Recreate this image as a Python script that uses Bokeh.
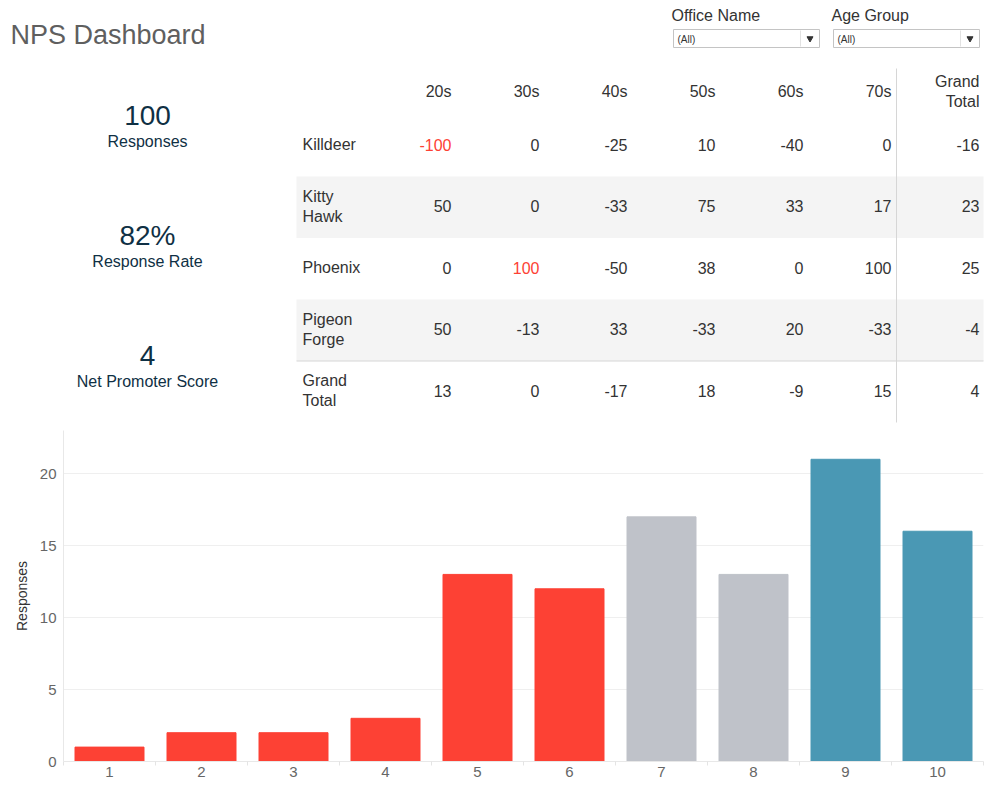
from bokeh.plotting import figure
from bokeh.models import Range1d, ColumnDataSource, FixedTicker
from bokeh.core.properties import value
from bokeh.embed import file_html
from bokeh.resources import INLINE

# ---------------- data ----------------
title = "NPS Dashboard"
filter_names = ["Office Name", "Age Group"]
filter_values = ["(All)", "(All)"]

kpi_values = ["100", "82%", "4"]
kpi_labels = ["Responses", "Response Rate", "Net Promoter Score"]

age_groups = ["20s", "30s", "40s", "50s", "60s", "70s", "Grand\nTotal"]
offices = ["Killdeer", "Kitty\nHawk", "Phoenix", "Pigeon\nForge", "Grand\nTotal"]
nps_killdeer = [-100, 0, -25, 10, -40, 0, -16]
nps_kitty_hawk = [50, 0, -33, 75, 33, 17, 23]
nps_phoenix = [0, 100, -50, 38, 0, 100, 25]
nps_pigeon_forge = [50, -13, 33, -33, 20, -33, -4]
nps_grand_total = [13, 0, -17, 18, -9, 15, 4]
highlighted = [("Killdeer", "20s"), ("Phoenix", "30s")]

scores = [1, 2, 3, 4, 5, 6, 7, 8, 9, 10]
responses = [1, 2, 2, 3, 13, 12, 17, 13, 21, 16]

FONT = "Liberation Sans"
RED = "#fd4134"
GRAY = "#bfc2c9"
TEAL = "#4a98b4"
TEXT = "#333333"
NAVY = "#0f3044"

# ---------------- top panel ----------------
W = 990
top = figure(width=W, height=425, x_range=Range1d(0, W), y_range=Range1d(425, 0),
             output_backend="svg", toolbar_location=None, min_border=0,
             x_axis_type=None, y_axis_type=None)
top.grid.visible = False
top.outline_line_color = None

top.text(x=[10], y=[34], text=[title], text_font=value(FONT), text_font_size="27px",
         text_color="#5f5f5f", text_baseline="middle")

# filters
fx = [671, 831]
for i, name in enumerate(filter_names):
    x0 = fx[i] + 2
    x1 = x0 + 146
    top.text(x=[fx[i]], y=[15], text=[name], text_font=value(FONT), text_font_size="16px",
             text_color=TEXT, text_baseline="middle")
    top.quad(left=[x0], right=[x1], top=[29], bottom=[47], fill_color="white",
             line_color="#c4c4c4", line_width=1)
    top.segment(x0=[x1 - 19], x1=[x1 - 19], y0=[30], y1=[46], line_color="#e2e2e2")
    top.text(x=[x0 + 4], y=[38.5], text=[filter_values[i]], text_font=value(FONT),
             text_font_size="10px", text_color=TEXT, text_baseline="middle")
    top.scatter(x=[x1 - 9.5], y=[38], marker="inverted_triangle", size=6,
                color="#333333")

# KPIs
for i, (v, lab) in enumerate(zip(kpi_values, kpi_labels)):
    yc = 115 + 120 * i
    top.text(x=[147], y=[yc], text=[v], text_font=value(FONT), text_font_size="28px",
             text_color=NAVY, text_align="center", text_baseline="middle")
    top.text(x=[147], y=[yc + 26], text=[lab], text_font=value(FONT), text_font_size="16px",
             text_color=NAVY, text_align="center", text_baseline="middle")

# table
row_h = 61.5
row0 = 114.5
rows = [nps_killdeer, nps_kitty_hawk, nps_phoenix, nps_pigeon_forge, nps_grand_total]
band_top = [row0 + row_h * i for i in (1, 3)]
top.quad(left=296, right=983, top=band_top, bottom=[b + row_h for b in band_top],
         fill_color="#f4f4f4", line_color=None)
top.segment(x0=[296], x1=[983], y0=[row0 + row_h * 4], y1=[row0 + row_h * 4],
            line_color="#d6d6d6", line_width=1)
top.segment(x0=[896], x1=[896], y0=[68], y1=[row0 + row_h * 5],
            line_color="#d6d6d6", line_width=1)

col_x = [451 + 88 * j for j in range(len(age_groups))]
# header
top.text(x=col_x, y=[91] * len(age_groups), text=age_groups, text_font=value(FONT),
         text_font_size="16px", text_color=TEXT, text_align="right", text_baseline="middle",
         text_line_height=1.2)
# row labels
row_y = [row0 + row_h * (i + 0.5) - 1 for i in range(len(offices))]
top.text(x=[302] * len(offices), y=row_y, text=offices, text_font=value(FONT),
         text_font_size="16px", text_color=TEXT, text_align="left", text_baseline="middle",
         text_line_height=1.2)
xs, ys, ts, cs = [], [], [], []
for i, r in enumerate(rows):
    for j, v in enumerate(r):
        xs.append(col_x[j])
        ys.append(row_y[i])
        ts.append(str(v))
        cs.append(RED if (offices[i], age_groups[j]) in highlighted else TEXT)
top.text(x="x", y="y", text="t", text_color="c",
         source=ColumnDataSource(dict(x=xs, y=ys, t=ts, c=cs)),
         text_font=value(FONT), text_font_size="16px", text_align="right",
         text_baseline="middle")

# ---------------- bar chart ----------------
bar_colors = [RED if s <= 6 else (GRAY if s <= 8 else TEAL) for s in scores]
bar = figure(width=W, height=361, x_range=Range1d(0.5, 10.5), y_range=Range1d(0, 23),
             output_backend="svg", toolbar_location=None,
             min_border_left=63, min_border_right=7, min_border_top=5, min_border_bottom=25)
bar.outline_line_color = None
bar.vbar(x=scores, top=responses, width=0.75, color=bar_colors)

bar.xgrid.visible = False
bar.ygrid.grid_line_color = "#efefef"
bar.yaxis.ticker = FixedTicker(ticks=[0, 5, 10, 15, 20])
bar.xaxis.ticker = FixedTicker(ticks=scores, minor_ticks=[s - 0.5 for s in scores] + [10.5])
bar.xaxis.major_tick_line_color = None
bar.xaxis.major_tick_out = 0
bar.xaxis.major_tick_in = 0
bar.xaxis.minor_tick_line_color = "#e4e4e4"
bar.xaxis.minor_tick_in = 0
bar.xaxis.minor_tick_out = 4
bar.yaxis.major_tick_line_color = None
bar.yaxis.major_tick_out = 0
bar.yaxis.major_tick_in = 0
bar.yaxis.minor_tick_line_color = None
for ax in (bar.xaxis, bar.yaxis):
    ax.axis_line_color = "#e8e8e8"
    ax.major_label_text_font = FONT
    ax.major_label_text_font_size = "15px"
    ax.major_label_text_color = "#666666"
bar.xaxis.major_label_standoff = 1
bar.yaxis.major_label_standoff = 7
bar.yaxis.axis_label = "Responses"
bar.yaxis.axis_label_text_font = FONT
bar.yaxis.axis_label_text_font_size = "14px"
bar.yaxis.axis_label_text_font_style = "normal"
bar.yaxis.axis_label_text_color = TEXT
bar.yaxis.axis_label_standoff = 7

open("out.html", "w").write(file_html([top, bar], INLINE))
